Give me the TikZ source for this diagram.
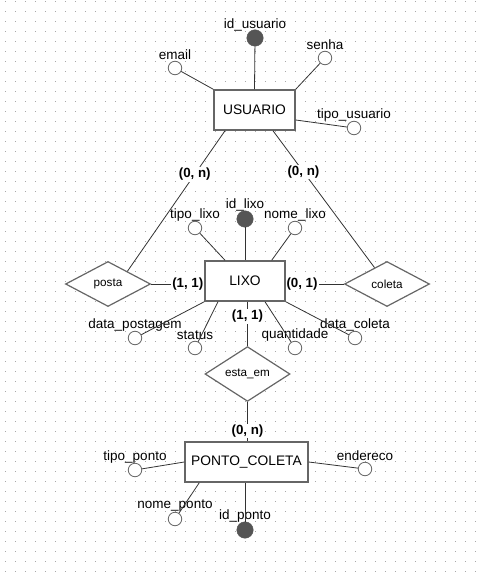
\documentclass[tikz,border=0pt]{standalone}
\usepackage{fontspec}
\setmainfont{Liberation Sans}
\usetikzlibrary{shapes.geometric, calc}
\definecolor{linegray}{HTML}{333333}
\definecolor{boxgray}{HTML}{666666}
\definecolor{keygray}{HTML}{555555}
\definecolor{dotgray}{HTML}{A8A8A8}
\tikzstyle{entity} = [rectangle, 
minimum height=40pt, 
inner sep=0pt,
draw=boxgray, 
line width=1.5pt, 
fill=white,
font=\fontsize{13.8}{16}\selectfont]
\tikzstyle{relation} = [diamond, 
minimum width=85pt, 
minimum height=45pt, 
inner sep=0pt, 
draw=boxgray, 
line width=1.2pt, 
fill=white,
font=\fontsize{11.7}{14}\selectfont]
\tikzstyle{attrib} = [circle, 
minimum size=13.5pt, 
inner sep=0pt, 
draw=boxgray, 
line width=0.8pt, 
fill=white]
\tikzstyle{keyattrib} = [circle, 
minimum size=16.5pt, 
inner sep=0pt, 
draw=keygray, 
fill=keygray]
\tikzstyle{attrtext} = [inner sep=0pt, font=\fontsize{13.5}{16}\selectfont]
\tikzstyle{card} = [fill=white, inner sep=1pt, font=\bfseries\fontsize{13.3}{16}\selectfont]
\tikzstyle{link} = [draw=linegray, line width=0.8pt]

\begin{document}
\begin{tikzpicture}[x=1pt, y=-1pt]
		\fill[white] (0,0) rectangle (484,580);
		\useasboundingbox (0,0) rectangle (484,580);
		% dotted grid
		\foreach \i in {0,...,47}
			\foreach \j in {0,...,57}
				\fill[dotgray] (5+10*\i,1+10*\j) rectangle ++(1,1);
	
		% entities and relations
		\node (usuario) [entity, minimum width=81pt] at (254.5,110) {USUARIO};
		\node (lixo) [entity, minimum width=80pt] at (245,281) {LIXO};
		\node (ponto) [entity, minimum width=123pt] at (246.5,462) {PONTO\_COLETA};
		\node (posta) [relation] at (108,284) {posta};
		\node (coleta) [relation] at (387,284) {coleta};
		\node (estaem) [relation] at (247.5,374) {esta\_em};
	
		% attributes of USUARIO
		\node (idusuario) [keyattrib] at (255,38) {};
		\node (idusuariotxt) [attrtext] at (255,25) {id\_usuario};
		\node (email) [attrib] at (175,68) {};
		\node (emailtxt) [attrtext] at (175,55) {email};
		\node (senha) [attrib] at (325,58) {};
		\node (senhatxt) [attrtext] at (325,45) {senha};
		\node (tipousuario) [attrib] at (354,128) {};
		\node (tipousuariotxt) [attrtext] at (354,115) {tipo\_usuario};
	
		% attributes of LIXO
		\node (idlixo) [keyattrib] at (245,219) {};
		\node (idlixotxt) [attrtext] at (245,205) {id\_lixo};
		\node (tipolixo) [attrib] at (195,228) {};
		\node (tipolixotxt) [attrtext] at (195,215) {tipo\_lixo};
		\node (nomelixo) [attrib] at (295,228) {};
		\node (nomelixotxt) [attrtext] at (295,215) {nome\_lixo};
		\node (datapostagem) [attrib] at (135,338) {};
		\node (datapostagemtxt) [attrtext] at (135,325) {data\_postagem};
		\node (status) [attrib] at (195,348) {};
		\node (statustxt) [attrtext] at (195,335) {status};
		\node (quantidade) [attrib] at (295,348) {};
		\node (quantidadetxt) [attrtext] at (295,335) {quantidade};
		\node (datacoleta) [attrib] at (355,338) {};
		\node (datacoletatxt) [attrtext] at (355,325) {data\_coleta};
	
		% attributes of PONTO_COLETA
		\node (tipoponto) [attrib] at (135,470) {};
		\node (tipopontotxt) [attrtext] at (135,457) {tipo\_ponto};
		\node (endereco) [attrib] at (365,469) {};
		\node (enderecotxt) [attrtext] at (365,456) {endereco};
		\node (nomeponto) [attrib] at (175,519) {};
		\node (nomepontotxt) [attrtext] at (175,506) {nome\_ponto};
		\node (idponto) [keyattrib] at (245,530) {};
		\node (idpontotxt) [attrtext] at (245,516) {id\_ponto};
	
		\draw [link] (idusuario) -- (usuario.north);
		\draw [link] (email) -- (usuario.north west);
		\draw [link] (senha) -- (usuario.north east);
		\draw [link] (tipousuario) -- ($(usuario.east)+(0,10)$);
	
		\draw [link] (idlixo) -- (lixo.north);
		\draw [link] (tipolixo) -- ($(lixo.north)+(-20,0)$);
		\draw [link] (nomelixo) -- ($(lixo.north)+(26.7,0)$);
		\draw [link] (datapostagem) -- (lixo.south west);
		\draw [link] (status) -- ($(lixo.south)+(-27,0)$);
		\draw [link] (quantidade) -- ($(lixo.south)+(20,0)$);
		\draw [link] (datacoleta) -- (lixo.south east);
	
		\draw [link] (tipoponto) -- (ponto.west);
		\draw [link] (endereco) -- (ponto.east);
		\draw [link] (nomeponto) -- ($(ponto.south west)+(15,0)$);
		\draw [link] (idponto) -- (idponto |- ponto.south);
	
		% relationships
		\draw [link] ($(usuario.south)+(-29.5,0)$) -- node[card, pos=0.31] {(0, n)} ($(posta.north)!0.45!(posta.east)$);
		\draw [link] ($(usuario.south)+(18.5,0)$) -- node[card, pos=0.30] {(0, n)} ($(coleta.north)!0.29!(coleta.west)$);
		\draw [link] (posta.east) -- node[card, pos=0.69] {(1, 1)} (posta.east -| lixo.west);
		\draw [link] (coleta.west -| lixo.east) -- node[card, pos=0.28] {(0, 1)} (coleta.west);
		\draw [link] (estaem.north |- lixo.south) -- node[card, pos=0.33] {(1, 1)} (estaem.north);
		\draw [link] (estaem.south) -- node[card, pos=0.74] {(0, n)} (estaem.south |- ponto.north);
	\end{tikzpicture}
\end{document}
